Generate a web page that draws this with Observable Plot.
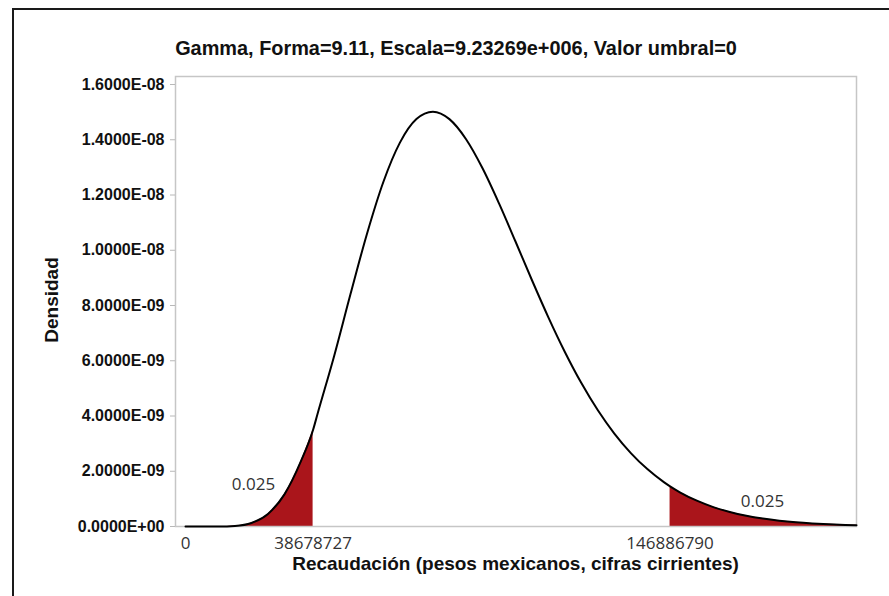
<!DOCTYPE html>
<html>
<head>
<meta charset="utf-8">
<script src="https://cdn.jsdelivr.net/npm/d3@7"></script>
<script src="https://cdn.jsdelivr.net/npm/@observablehq/plot@0.6"></script>
<style>
  html, body { margin: 0; padding: 0; background: #fff; }
  #wrap { position: relative; width: 889px; height: 596px; overflow: hidden; background: #fff; }
  #outer { position: absolute; left: 12px; top: 8px; width: 1000px; height: 1000px;
           border-left: 2px solid #1a1a1a; border-top: 2px solid #1a1a1a; }
  #chart { position: absolute; left: 0; top: 0; }
  .ttl { position: absolute; font-family: "Liberation Sans", Arial, sans-serif; font-weight: bold;
         color: #111; line-height: 1; white-space: nowrap; }
  #title { top: 39px; left: 13px; width: 886px; text-align: center; font-size: 19.9px; }
  #xlabel { top: 554px; left: 175px; width: 681px; text-align: center; font-size: 19px; }
  #ylabel { left: 51px; top: 300px; font-size: 19px; transform: translate(-50%, -50%) rotate(-90deg); }
</style>
</head>
<body>
<div id="wrap">
  <div id="outer"></div>
  <div id="chart"></div>
  <div id="title" class="ttl">Gamma, Forma=9.11, Escala=9.23269e+006, Valor umbral=0</div>
  <div id="xlabel" class="ttl">Recaudación (pesos mexicanos, cifras cirrientes)</div>
  <div id="ylabel" class="ttl">Densidad</div>
</div>
<script>
// Recaudación (pesos)
const recaudacion = [
  0, 5000000, 10000000, 15000000, 20000000, 25000000, 30000000, 35000000,
  38678727, 40000000, 45000000, 50000000, 55000000, 60000000, 65000000,
  70000000, 75000000, 80000000, 85000000, 90000000, 95000000, 100000000,
  105000000, 110000000, 115000000, 120000000, 125000000, 130000000,
  135000000, 140000000, 145000000, 146886790, 150000000, 155000000,
  160000000, 165000000, 170000000, 175000000, 180000000, 185000000,
  190000000, 195000000, 200000000, 203400000
];
// Densidad in units of 1E-09
const densidadE9 = [
  0, 0.00001, 0.0014, 0.021, 0.128, 0.456, 1.164, 2.365,
  3.5, 4.064, 6.146, 8.404, 10.591, 12.481, 13.897,
  14.750, 15.016, 14.747, 14.029, 12.977, 11.706, 10.326,
  8.923, 7.572, 6.318, 5.191, 4.206, 3.364,
  2.658, 2.077, 1.606, 1.454, 1.230, 0.934,
  0.703, 0.525, 0.389, 0.287, 0.210, 0.152,
  0.110, 0.079, 0.056, 0.045
];
const colaIzquierda = 38678727;
const colaDerecha = 146886790;
const xTicks = [0, 38678727, 146886790];
const yTicks = [0, 2e-9, 4e-9, 6e-9, 8e-9, 1e-8, 1.2e-8, 1.4e-8, 1.6e-8];
const etiquetas = ["0.025", "0.025"];
const etiquetaX = [20600000, 174900000];
const etiquetaY = [1.52e-9, 0.905e-9];

const tabla = recaudacion.map((x, i) => ({x, y: densidadE9[i] * 1e-9}));
const izq = tabla.filter(d => d.x <= colaIzquierda);
const der = tabla.filter(d => d.x >= colaDerecha);
const notas = etiquetas.map((t, i) => ({t, x: etiquetaX[i], y: etiquetaY[i]}));

function fmtE(d) {
  const [m, e] = d.toExponential(4).split("e");
  const s = e[0] === "-" ? "-" : "+";
  const n = e.replace(/^[+-]/, "").padStart(2, "0");
  return `${m}E${s}${n}`;
}

const red = "#aa151b";
const chart = Plot.plot({
  width: 889,
  height: 596,
  marginLeft: 175,
  marginRight: 33,
  marginTop: 76,
  marginBottom: 70,
  style: {background: "transparent", fontFamily: "Liberation Sans, Arial, sans-serif", overflow: "visible"},
  x: {domain: [-3030000, 203400000]},
  y: {domain: [0, 1.629e-8]},
  marks: [
    Plot.areaY(izq, {x: "x", y: "y", fill: red, curve: "monotone-x"}),
    Plot.areaY(der, {x: "x", y: "y", fill: red, curve: "monotone-x"}),
    Plot.frame({stroke: "#c6c6c6", strokeWidth: 1.5}),
    Plot.lineY(tabla, {x: "x", y: "y", stroke: "#000", strokeWidth: 2, curve: "monotone-x"}),
    Plot.axisY({ticks: yTicks, tickFormat: fmtE, tickSize: 5, tickPadding: 6, stroke: "#b8b8b8",
      fill: "#111", fontSize: 16, fontWeight: "bold", fontFamily: "Liberation Sans, Arial, sans-serif", label: null}),
    Plot.axisX({ticks: xTicks, tickFormat: d => String(d), tickSize: 0, tickPadding: 10,
      fill: "#333", fontSize: 17, fontFamily: "Open Sans, sans-serif", label: null}),
    Plot.text(notas, {x: "x", y: "y", text: "t", fontSize: 17, fontFamily: "Open Sans, sans-serif", fill: "#333"})
  ]
});
document.getElementById("chart").appendChild(chart);
</script>
</body>
</html>
